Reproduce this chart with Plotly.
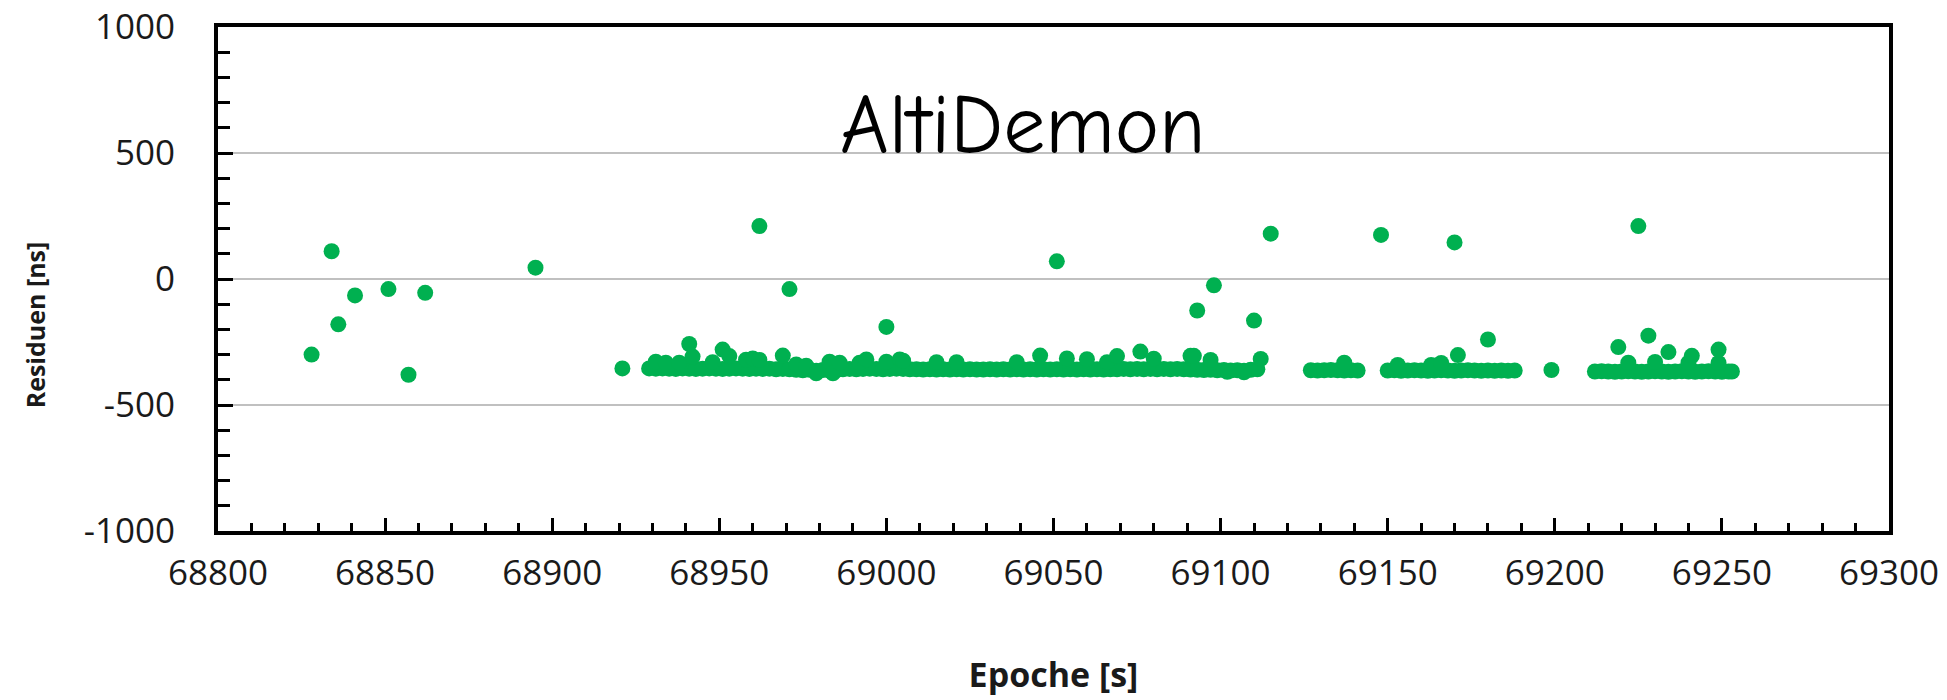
import plotly.graph_objects as go

# ---- data ----
early_x = [68828, 68834, 68836, 68841, 68851, 68857, 68862, 68895, 68921]
early_y = [-300, 110, -180, -65, -40, -380, -55, 45, -355]

outlier_x = [68941, 68951, 68962, 68971, 69000, 69051, 69076, 69093, 69098, 69110,
             69115, 69148, 69170, 69180, 69199, 69219, 69225, 69228, 69234, 69241, 69249]
outlier_y = [-258, -280, 210, -40, -190, 70, -288, -125, -25, -165,
             180, 175, 145, -240, -361, -270, 210, -225, -290, -305, -280]

bump_x = [68931, 68934, 68938, 68942, 68948, 68953, 68958, 68960, 68962, 68969,
          68973, 68976, 68979, 68983, 68984, 68986, 68992, 68994, 69000, 69004,
          69005, 69015, 69021, 69039, 69046, 69054, 69060, 69066, 69069, 69080,
          69091, 69092, 69097, 69102, 69107, 69112, 69137, 69153, 69163, 69166,
          69171, 69222, 69230, 69240, 69249]
bump_y = [-328, -332, -332, -308, -330, -306, -320, -315, -321, -304,
          -339, -344, -374, -328, -374, -332, -332, -319, -328, -319,
          -324, -330, -330, -330, -304, -315, -318, -330, -306, -316,
          -305, -305, -321, -368, -370, -317, -332, -341, -341, -333,
          -302, -332, -329, -332, -333]

band_a_x = [68929, 68931, 68933, 68935, 68937, 68939, 68941, 68943, 68945, 68947,
            68949, 68951, 68953, 68955, 68957, 68959, 68961, 68963, 68965, 68967,
            68969, 68971, 68973, 68975, 68977, 68979, 68981, 68983, 68985, 68987,
            68989, 68991, 68993, 68995, 68997, 68999, 69001, 69003, 69005, 69007,
            69009, 69011, 69013, 69015, 69017, 69019, 69021, 69023, 69025, 69027,
            69029, 69031, 69033, 69035, 69037, 69039, 69041, 69043, 69045, 69047,
            69049, 69051, 69053, 69055, 69057, 69059, 69061, 69063, 69065, 69067,
            69069, 69071, 69073, 69075, 69077, 69079, 69081, 69083, 69085, 69087,
            69089, 69091, 69093, 69095, 69097, 69099, 69101, 69103, 69105, 69107,
            69109, 69111]
band_a_y = [-355, -356, -355, -356, -357, -355, -356, -357, -356, -355,
            -356, -357, -356, -355, -356, -357, -356, -357, -356, -358,
            -357, -358, -360, -362, -360, -364, -361, -363, -362, -358,
            -357, -358, -357, -356, -357, -358, -357, -356, -357, -358,
            -358, -359, -358, -359, -358, -359, -358, -359, -358, -359,
            -359, -358, -359, -358, -359, -358, -359, -358, -359, -358,
            -359, -358, -359, -358, -359, -358, -359, -358, -359, -358,
            -358, -357, -358, -357, -358, -357, -358, -357, -358, -357,
            -358, -359, -360, -361, -360, -362, -361, -363, -362, -364,
            -360, -358]

band_b_x = [69127, 69129, 69131, 69133, 69135, 69137, 69139, 69141]
band_b_y = [-362, -363, -362, -361, -362, -363, -362, -363]

band_c_x = [69150, 69152, 69154, 69156, 69158, 69160, 69162, 69164, 69166, 69168,
            69170, 69172, 69174, 69176, 69178, 69180, 69182, 69184, 69186, 69188]
band_c_y = [-363, -362, -364, -363, -362, -363, -364, -363, -362, -363,
            -364, -363, -362, -363, -364, -363, -364, -363, -364, -363]

band_d_x = [69212, 69214, 69216, 69218, 69220, 69222, 69224, 69226, 69228, 69230,
            69232, 69234, 69236, 69238, 69240, 69242, 69244, 69246, 69248, 69250,
            69252, 69253]
band_d_y = [-367, -366, -367, -368, -367, -366, -367, -368, -367, -366,
            -367, -368, -367, -366, -367, -368, -367, -366, -367, -368,
            -367, -367]

# axis tick labels
y_tick_vals = [-1000, -500, 0, 500, 1000]
y_tick_labels = ["-1000", "-500", "0", "500", "1000"]
x_tick_vals = [68800, 68850, 68900, 68950, 69000, 69050, 69100, 69150, 69200, 69250, 69300]
x_tick_labels = ["68800", "68850", "68900", "68950", "69000", "69050",
                 "69100", "69150", "69200", "69250", "69300"]

x_all = early_x + band_a_x + band_b_x + band_c_x + band_d_x + bump_x + outlier_x
y_all = early_y + band_a_y + band_b_y + band_c_y + band_d_y + bump_y + outlier_y

GREEN = "#00B050"
FAMILY = "Open Sans, Noto Sans, sans-serif"
TICKFONT = dict(family=FAMILY, size=35, color="#1a1a1a")

ML, MR, MT, MB = 218, 58, 27, 169

fig = go.Figure()
fig.add_trace(go.Scatter(
    x=x_all, y=y_all, mode="markers",
    marker=dict(color=GREEN, size=16, line=dict(width=0)),
    showlegend=False,
))

fig.update_layout(
    width=1947, height=700,
    margin=dict(l=ML, r=MR, t=MT, b=MB, autoexpand=False),
    paper_bgcolor="white", plot_bgcolor="white",
    annotations=[
        dict(text="AltiDemon", xref="paper", yref="y", x=0.4817, y=610,
             xanchor="center", yanchor="middle", showarrow=False,
             font=dict(family="Comic Sans MS, Comic Neue, Noto Sans, sans-serif",
                       size=84, color="black")),
        dict(text="<b>Residuen [ns]</b>", xref="paper", yref="paper",
             x=0, xshift=-183, y=0.408, xanchor="center", yanchor="middle",
             textangle=-90, showarrow=False,
             font=dict(family=FAMILY, size=25, color="#1a1a1a")),
    ],
)

fig.update_xaxes(
    range=[68800, 69300], tickmode="array", tickvals=x_tick_vals, ticktext=x_tick_labels,
    showline=True, linecolor="black", linewidth=4, mirror=True,
    ticks="inside", ticklen=13, tickwidth=3, tickcolor="black",
    minor=dict(tick0=68800, dtick=10, ticks="inside", ticklen=8, tickwidth=3,
               tickcolor="black", showgrid=False),
    showgrid=False, zeroline=False, automargin=False,
    tickfont=TICKFONT, ticklabelstandoff=8, ticklabeloverflow="allow",
    title=dict(text="Epoche [s]", standoff=70,
               font=dict(family=FAMILY, size=34, color="#1a1a1a", weight="bold")),
)
fig.update_yaxes(
    range=[-1000, 1000], tickmode="array", tickvals=y_tick_vals, ticktext=y_tick_labels,
    showline=True, linecolor="black", linewidth=4, mirror=True,
    ticks="inside", ticklen=15, tickwidth=3, tickcolor="black",
    minor=dict(tick0=-1000, dtick=100, ticks="inside", ticklen=12, tickwidth=3,
               tickcolor="black", showgrid=False),
    showgrid=True, gridcolor="#c0c0c0", gridwidth=2, zeroline=False, automargin=False,
    tickfont=TICKFONT, ticklabelstandoff=32, ticklabeloverflow="allow",
)

# remove the default 8 px page margin so the figure fills the window exactly
fig.write_html("out.html", config={"displayModeBar": False},
               post_script="document.body.style.margin='0';")
